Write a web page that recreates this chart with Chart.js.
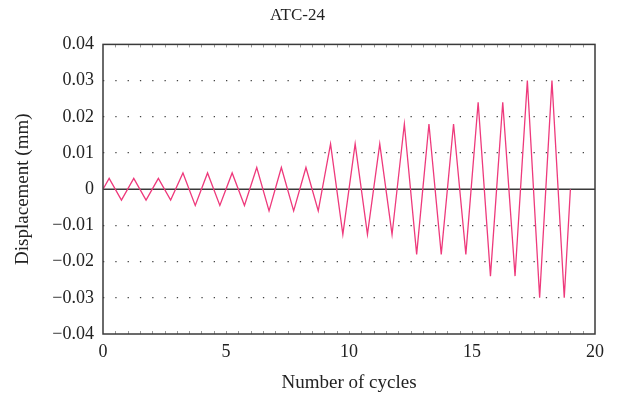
<!DOCTYPE html>
<html>
<head>
<meta charset="utf-8">
<script src="https://cdn.jsdelivr.net/npm/chart.js@4/dist/chart.umd.min.js"></script>
<style>
  html, body { margin: 0; padding: 0; background: #fff; }
  #wrap { width: 619px; height: 398px; }
</style>
</head>
<body>
<div id="wrap"><canvas id="chart" width="619" height="398"></canvas></div>
<script>
// Peaks and troughs of the ATC-24 loading history
const cycleX = [
  0,
  0.25, 0.75, 1.25, 1.75, 2.25, 2.75,
  3.25, 3.75, 4.25, 4.75, 5.25, 5.75,
  6.25, 6.75, 7.25, 7.75, 8.25, 8.75,
  9.25, 9.75, 10.25, 10.75, 11.25, 11.75,
  12.25, 12.75, 13.25, 13.75, 14.25, 14.75,
  15.25, 15.75, 16.25, 16.75,
  17.25, 17.75, 18.25, 18.75,
  19
];
const displacement = [
  0,
  0.003, -0.003, 0.003, -0.003, 0.003, -0.003,
  0.0045, -0.0045, 0.0045, -0.0045, 0.0045, -0.0045,
  0.006, -0.006, 0.006, -0.006, 0.006, -0.006,
  0.0125, -0.0125, 0.0125, -0.0125, 0.0125, -0.0125,
  0.018, -0.018, 0.018, -0.018, 0.018, -0.018,
  0.024, -0.024, 0.024, -0.024,
  0.030, -0.030, 0.030, -0.030,
  0
];
const xTicks = [0, 5, 10, 15, 20];
const yTicks = [-0.04, -0.03, -0.02, -0.01, 0, 0.01, 0.02, 0.03, 0.04];

const serif = '"Liberation Serif", "Times New Roman", serif';
const frameColor = '#3a3a3a';

// frame, zero line and small inward ticks
const framePlugin = {
  id: 'frame',
  beforeDatasetsDraw(chart) {
    const { ctx, chartArea: a, scales } = chart;
    const y0 = scales.y.getPixelForValue(0);
    ctx.save();
    ctx.strokeStyle = frameColor;
    ctx.lineWidth = 1.5;
    ctx.beginPath();
    ctx.moveTo(a.left, y0);
    ctx.lineTo(a.right, y0);
    ctx.stroke();
    ctx.restore();
  },
  afterDatasetsDraw(chart) {
    const { ctx, chartArea: a, scales } = chart;
    ctx.save();
    ctx.strokeStyle = '#999';
    ctx.lineWidth = 1;
    ctx.beginPath();
    for (let v = 0.5; v < 20; v += 0.5) {
      const px = Math.round(scales.x.getPixelForValue(v)) + 0.5;
      ctx.moveTo(px, a.top);
      ctx.lineTo(px, a.top + 3);
      ctx.moveTo(px, a.bottom);
      ctx.lineTo(px, a.bottom - 3);
    }
    ctx.stroke();
    ctx.strokeStyle = frameColor;
    ctx.lineWidth = 1.5;
    ctx.strokeRect(a.left, a.top, a.right - a.left, a.bottom - a.top);
    ctx.restore();
  }
};

new Chart(document.getElementById('chart'), {
  type: 'line',
  data: {
    datasets: [{
      data: cycleX.map((x, i) => ({ x: x, y: displacement[i] })),
      borderColor: '#ee3a7c',
      borderWidth: 1.3,
      pointRadius: 0,
      tension: 0,
      fill: false
    }]
  },
  options: {
    responsive: false,
    animation: false,
    layout: { padding: { top: 0, right: 24, bottom: 0, left: 0 } },
    plugins: {
      legend: { display: false },
      tooltip: { enabled: false },
      title: {
        display: true,
        text: 'ATC-24',
        color: '#222',
        font: { family: serif, size: 17, weight: 'normal' },
        padding: { top: 5, bottom: 19 }
      }
    },
    scales: {
      x: {
        type: 'linear',
        min: 0,
        max: 20,
        afterBuildTicks(scale) { scale.ticks = xTicks.map(v => ({ value: v })); },
        afterFit(scale) { scale.height = 64; },
        grid: { display: false, drawTicks: false },
        border: { display: false },
        ticks: {
          color: '#222',
          padding: 7,
          maxRotation: 0,
          font: { family: serif, size: 18 }
        },
        title: {
          display: true,
          text: 'Number of cycles',
          color: '#222',
          font: { family: serif, size: 19 },
          padding: { top: 2, bottom: 4 }
        }
      },
      y: {
        min: -0.04,
        max: 0.04,
        afterBuildTicks(scale) { scale.ticks = yTicks.map(v => ({ value: v })); },
        afterFit(scale) { scale.width = 103; },
        grid: {
          drawTicks: false,
          lineWidth: 1.3,
          color: ctx => {
            const v = ctx.tick ? ctx.tick.value : null;
            if (v === null || Math.abs(v) < 1e-9 || Math.abs(Math.abs(v) - 0.04) < 1e-9) return 'rgba(0,0,0,0)';
            return '#444';
          }
        },
        border: { display: false, dash: [1.3, 11.0] },
        ticks: {
          color: '#222',
          padding: 9,
          font: { family: serif, size: 18 },
          callback: v => {
            if (Math.abs(v) < 1e-9) return '0';
            return (v < 0 ? '\u2212' : '') + Math.abs(v).toFixed(2);
          }
        },
        title: {
          display: true,
          text: 'Displacement (mm)',
          color: '#222',
          font: { family: serif, size: 19 },
          padding: { top: 12, bottom: 4 }
        }
      }
    }
  },
  plugins: [framePlugin]
});
</script>
</body>
</html>
